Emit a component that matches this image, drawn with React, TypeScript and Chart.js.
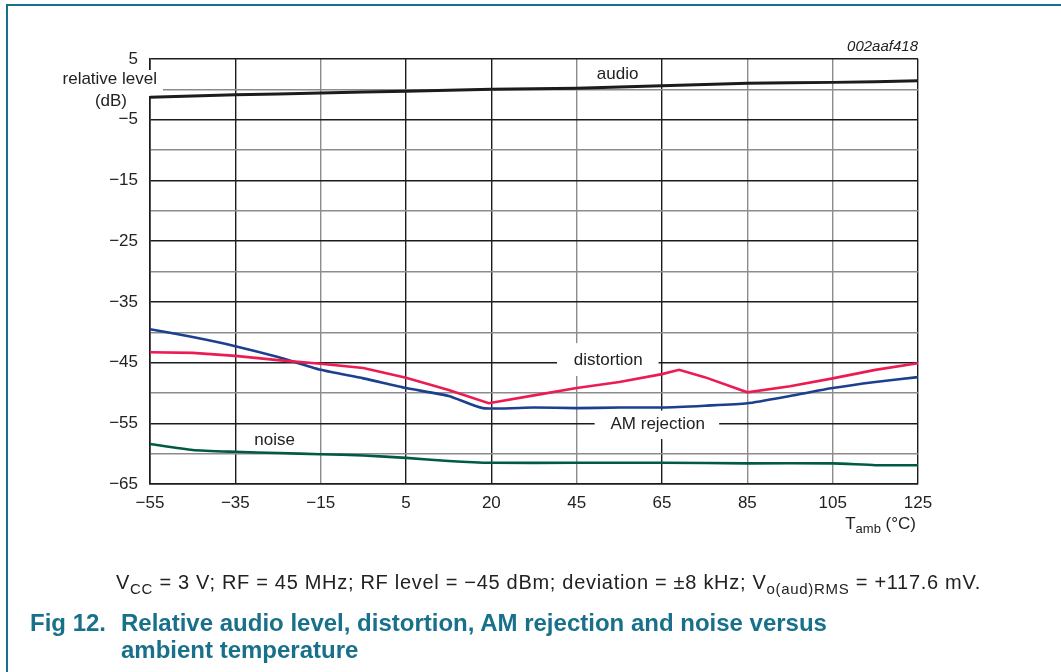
import React, { useEffect, useRef } from 'react';
import { Chart, registerables } from 'chart.js';

Chart.register(...registerables);

// ---- data ----
const tempLabels = ['\u221255', '\u221235', '\u221215', '5', '20', '45', '65', '85', '105', '125'];
const yMin = -65;
const yMax = 5;

const audioPos = [0, 1, 2, 3, 4, 5, 6, 7, 8, 9];
const audioLevel = [-1.3, -0.9, -0.6, -0.3, 0.0, 0.2, 0.6, 1.0, 1.15, 1.4];

const amPos = [0, 0.5, 1, 1.5, 2, 2.5, 3, 3.5, 3.9, 4.5, 5, 5.5, 6, 6.5, 7, 7.5, 8, 8.5, 9];
const amRejection = [-39.5, -40.8, -42.3, -44.1, -46.2, -47.6, -49.2, -50.5, -52.5, -52.4, -52.5, -52.4, -52.4, -52.1, -51.7, -50.5, -49.2, -48.2, -47.4];

const distPos = [0, 0.5, 1, 1.5, 2, 2.5, 3, 3.5, 3.97, 4.5, 5, 5.5, 6, 6.2, 6.5, 7, 7.5, 8, 8.5, 9];
const distortion = [-43.3, -43.4, -43.9, -44.6, -45.2, -45.9, -47.5, -49.5, -51.7, -50.4, -49.2, -48.2, -46.9, -46.2, -47.4, -49.9, -48.9, -47.6, -46.2, -45.1];

const noisePos = [0, 0.5, 1, 1.5, 2, 2.5, 3, 3.5, 4, 5, 6, 7, 8, 8.5, 9];
const noise = [-58.4, -59.4, -59.7, -59.9, -60.1, -60.3, -60.7, -61.2, -61.5, -61.5, -61.5, -61.6, -61.6, -61.9, -61.9];

const xGridDark = [true, true, false, true, true, false, true, false, false, true];

const BLACK = '#1c1c1c';
const GRAY = '#8c8c8c';
const TEAL = '#18708a';
const FONT = '"Liberation Sans", Arial, sans-serif';

const fmt = (v: number) => (v < 0 ? '\u2212' + Math.abs(v) : String(v));
const toPoints = (xs: number[], ys: number[]) => xs.map((x, i) => ({ x, y: ys[i] }));

const annotationPlugin = {
  id: 'annot',
  beforeDatasetsDraw(chart: any) {
    const { ctx, scales, chartArea } = chart;
    const xs = scales.x;
    const ys = scales.y;
    ctx.save();
    ctx.fillStyle = '#ffffff';
    const box = (x0: number, x1: number, y0: number, y1: number) => {
      const px0 = xs.getPixelForValue(x0);
      const px1 = xs.getPixelForValue(x1);
      const py0 = ys.getPixelForValue(y0);
      const py1 = ys.getPixelForValue(y1);
      ctx.fillRect(px0, py0, px1 - px0, py1 - py0);
    };
    box(4.77, 5.96, -41.8, -47.2);
    box(5.21, 6.67, -52.9, -57.6);
    ctx.fillRect(chartArea.left - 100, 70, 113, 26);

    ctx.fillStyle = '#222';
    ctx.font = `17px ${FONT}`;
    ctx.textBaseline = 'middle';
    ctx.textAlign = 'center';
    const label = (t: string, x: number, y: number) => {
      ctx.fillText(t, xs.getPixelForValue(x), ys.getPixelForValue(y));
    };
    label('audio', 5.48, 2.5);
    label('distortion', 5.37, -44.6);
    label('AM rejection', 5.95, -55.1);
    label('noise', 1.46, -57.8);

    ctx.textAlign = 'right';
    ctx.fillText('relative level', chartArea.left + 7, 79);
    ctx.fillText('(dB)', chartArea.left - 23, 101);

    ctx.font = `italic 15px ${FONT}`;
    ctx.fillText('002aaf418', chartArea.right, 47);

    ctx.font = `17px ${FONT}`;
    const rest = ' (\u00B0C)';
    const wRest = ctx.measureText(rest).width;
    ctx.font = `13px ${FONT}`;
    const wSub = ctx.measureText('amb').width;
    ctx.font = `17px ${FONT}`;
    const wT = ctx.measureText('T').width;
    const right = chartArea.right - 2;
    const start = right - wRest - wSub - wT;
    const baseY = chartArea.bottom + 45;
    ctx.textAlign = 'left';
    ctx.textBaseline = 'alphabetic';
    ctx.fillText('T', start, baseY);
    ctx.font = `13px ${FONT}`;
    ctx.fillText('amb', start + wT, baseY + 4);
    ctx.font = `17px ${FONT}`;
    ctx.fillText(rest, start + wT + wSub, baseY);
    ctx.restore();
  },
};

export default function App() {
  const canvasRef = useRef<HTMLCanvasElement | null>(null);

  useEffect(() => {
    document.body.style.margin = '0';
    const canvas = canvasRef.current;
    if (!canvas) return;
    const chart = new Chart(canvas, {
      type: 'line',
      data: {
        datasets: [
          { label: 'audio', data: toPoints(audioPos, audioLevel), borderColor: BLACK, borderWidth: 3, pointRadius: 0, tension: 0.2 },
          { label: 'distortion', data: toPoints(distPos, distortion), borderColor: '#ec1c52', borderWidth: 2.6, pointRadius: 0, tension: 0 },
          { label: 'AM rejection', data: toPoints(amPos, amRejection), borderColor: '#1d3f8f', borderWidth: 2.6, pointRadius: 0, tension: 0.2 },
          { label: 'noise', data: toPoints(noisePos, noise), borderColor: '#005a44', borderWidth: 2.6, pointRadius: 0, tension: 0.2 },
        ],
      },
      options: {
        responsive: false,
        animation: false,
        devicePixelRatio: 1,
        layout: { padding: { left: 0, top: 59, right: 143, bottom: 143 } },
        plugins: { legend: { display: false }, tooltip: { enabled: false }, title: { display: false } },
        scales: {
          x: {
            type: 'linear',
            min: 0,
            max: 9,
            afterFit: (s: any) => { s.height = 45; },
            ticks: {
              stepSize: 1,
              autoSkip: false,
              maxRotation: 0,
              padding: 9,
              color: '#222',
              font: { family: FONT, size: 17 },
              callback: (v: any) => tempLabels[Math.round(Number(v))] ?? '',
            },
            grid: {
              drawTicks: false,
              lineWidth: 1.4,
              color: (c: any) => (xGridDark[c.index] ? BLACK : GRAY),
            },
            border: { display: true, color: BLACK, width: 1.6 },
          },
          y: {
            type: 'linear',
            min: yMin,
            max: yMax,
            afterFit: (s: any) => { s.width = 150; },
            ticks: {
              stepSize: 5,
              autoSkip: false,
              padding: 12,
              color: '#222',
              font: { family: FONT, size: 17 },
              callback: (v: any) => (Number(v) % 10 !== 0 ? fmt(Number(v)) : ''),
            },
            grid: {
              drawTicks: false,
              lineWidth: 1.4,
              color: (c: any) => (c.tick && c.tick.value % 10 === 0 ? GRAY : BLACK),
            },
            border: { display: true, color: BLACK, width: 1.6 },
          },
        },
      },
      plugins: [annotationPlugin],
    });
    return () => chart.destroy();
  }, []);

  const sub = { fontSize: 15, verticalAlign: '-5px', lineHeight: 0 } as const;

  return (
    <div style={{ position: 'fixed', left: 0, top: 0, width: 1061, height: 672, background: '#fff', overflow: 'hidden', fontFamily: FONT }}>
      <div style={{ position: 'absolute', left: 6, top: 4, right: -10, bottom: -10, borderTop: `2px solid ${TEAL}`, borderLeft: `2px solid ${TEAL}` }} />
      <canvas ref={canvasRef} width={1061} height={672} style={{ position: 'absolute', left: 0, top: 0 }} />
      <div style={{ position: 'absolute', left: 116, top: 571, fontSize: 20, letterSpacing: '0.7px', lineHeight: '22px', color: '#222', whiteSpace: 'nowrap' }}>
        V<sub style={sub}>CC</sub> = 3 V; RF = 45 MHz; RF level = {'\u2212'}45 dBm; deviation = {'\u00B1'}8 kHz; V<sub style={sub}>o(aud)RMS</sub> = +117.6 mV.
      </div>
      <div style={{ position: 'absolute', left: 30, top: 609, fontSize: 24, lineHeight: '27px', fontWeight: 'bold', color: TEAL, whiteSpace: 'nowrap' }}>
        Fig 12.
      </div>
      <div style={{ position: 'absolute', left: 121, top: 609, fontSize: 24, lineHeight: '27px', fontWeight: 'bold', color: TEAL, whiteSpace: 'nowrap' }}>
        Relative audio level, distortion, AM rejection and noise versus<br />ambient temperature
      </div>
    </div>
  );
}
